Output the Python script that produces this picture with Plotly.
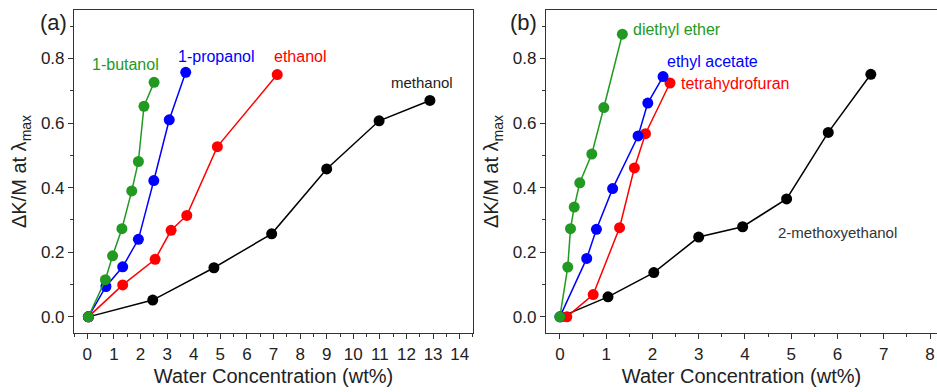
import plotly.graph_objects as go

# ---------------- data: panel (a) ----------------
meoh_x = [0.04, 2.46, 4.76, 6.93, 9.0, 10.97, 12.88]
meoh_y = [0.0, 0.052, 0.152, 0.257, 0.458, 0.607, 0.670]
etoh_x = [0.04, 1.33, 2.55, 3.15, 3.74, 4.89, 7.14]
etoh_y = [0.0, 0.099, 0.178, 0.268, 0.314, 0.527, 0.750]
prop_x = [0.04, 0.70, 1.33, 1.92, 2.50, 3.08, 3.70]
prop_y = [0.0, 0.094, 0.155, 0.240, 0.422, 0.610, 0.757]
but_x = [0.04, 0.68, 0.95, 1.30, 1.67, 1.92, 2.13, 2.51]
but_y = [0.0, 0.115, 0.189, 0.273, 0.390, 0.481, 0.652, 0.726]

# ---------------- data: panel (b) ----------------
dee_x = [0.0, 0.17, 0.23, 0.31, 0.43, 0.69, 0.95, 1.35]
dee_y = [0.0, 0.154, 0.273, 0.340, 0.415, 0.504, 0.648, 0.875]
ea_x = [0.0, 0.58, 0.79, 1.14, 1.69, 1.90, 2.23]
ea_y = [0.0, 0.181, 0.271, 0.397, 0.560, 0.662, 0.744]
thf_x = [0.15, 0.72, 1.29, 1.61, 1.85, 2.38]
thf_y = [0.0, 0.069, 0.276, 0.461, 0.567, 0.724]
meo_x = [0.02, 1.04, 2.03, 3.00, 3.95, 4.90, 5.80, 6.72]
meo_y = [0.0, 0.062, 0.137, 0.247, 0.279, 0.365, 0.571, 0.751]

x_ticks_a = list(range(0, 15))
x_ticks_b = list(range(0, 9))
y_ticks = [0.0, 0.2, 0.4, 0.6, 0.8]

GREEN = "#229a22"
BLUE = "#0000ff"
RED = "#ff0000"
BLACK = "#000000"
FONT = "Liberation Sans, Arial, sans-serif"

fig = go.Figure()

def add(x, y, color, xa, ya):
    fig.add_trace(go.Scatter(
        x=x, y=y, mode="lines+markers", xaxis=xa, yaxis=ya,
        line=dict(color=color, width=1.5),
        marker=dict(color=color, size=11, symbol="circle"),
        showlegend=False, hoverinfo="skip"))

add(meoh_x, meoh_y, BLACK, "x", "y")
add(etoh_x, etoh_y, RED, "x", "y")
add(prop_x, prop_y, BLUE, "x", "y")
add(but_x, but_y, GREEN, "x", "y")

add(meo_x, meo_y, BLACK, "x2", "y2")
add(thf_x, thf_y, RED, "x2", "y2")
add(ea_x, ea_y, BLUE, "x2", "y2")
add(dee_x, dee_y, GREEN, "x2", "y2")

axis_common = dict(
    showgrid=False, zeroline=False, showline=True, linecolor="#333333",
    linewidth=1.2, ticks="outside", ticklen=5, tickwidth=1.2,
    tickcolor="#333333", tickfont=dict(family=FONT, size=17, color="#222222"),
)

ytitle = dict(text="ΔK/M at λ<sub>max</sub>", font=dict(family=FONT, size=20, color="#222222"), standoff=8)
xtitle = dict(text="Water Concentration (wt%)", font=dict(family=FONT, size=20, color="#222222"), standoff=6)

fig.update_layout(
    width=937, height=392,
    margin=dict(l=0, r=0, t=0, b=0),
    paper_bgcolor="white", plot_bgcolor="white",
    xaxis=dict(domain=[0.079, 0.5048], range=[-0.5, 14.5], anchor="y",
               tickvals=x_ticks_a, mirror=True,
               minor=dict(dtick=0.5, tick0=0, ticks="outside", ticklen=3, tickcolor="#333333"),
               title=xtitle, **axis_common),
    yaxis=dict(domain=[0.1505, 0.9745], range=[-0.05, 0.95], anchor="x",
               tickvals=y_ticks, tickformat=".1f", mirror=True,
               minor=dict(dtick=0.1, tick0=0, ticks="outside", ticklen=3, tickcolor="#333333"),
               title=ytitle, **axis_common),
    xaxis2=dict(domain=[0.5827, 1.0], range=[-0.3, 8.15], anchor="y2",
                tickvals=x_ticks_b, mirror=True,
                minor=dict(dtick=0.5, tick0=0, ticks="outside", ticklen=3, tickcolor="#333333"),
                title=xtitle, **axis_common),
    yaxis2=dict(domain=[0.1505, 0.9745], range=[-0.05, 0.95], anchor="x2",
                tickvals=y_ticks, tickformat=".1f", mirror=False,
                minor=dict(dtick=0.1, tick0=0, ticks="outside", ticklen=3, tickcolor="#333333"),
                title=ytitle, **axis_common),
)

def label(text, x, y, color, xref, yref, xanchor="center", size=16):
    fig.add_annotation(text=text, x=x, y=y, xref=xref, yref=yref, showarrow=False,
                       xanchor=xanchor, yanchor="middle",
                       font=dict(family=FONT, size=size, color=color))

label("1-butanol", 1.42, 0.781, GREEN, "x", "y")
label("1-propanol", 4.86, 0.806, BLUE, "x", "y")
label("ethanol", 8.0, 0.806, RED, "x", "y")
label("methanol", 12.57, 0.725, "#222222", "x", "y", size=15)

label("diethyl ether", 1.53, 0.89, GREEN, "x2", "y2", xanchor="left")
label("ethyl acetate", 2.27, 0.79, BLUE, "x2", "y2", xanchor="left")
label("tetrahydrofuran", 2.58, 0.722, RED, "x2", "y2", xanchor="left")
label("2-methoxyethanol", 4.67, 0.262, "#333333", "x2", "y2", xanchor="left", size=15)

fig.add_annotation(text="(a)", x=53 / 937, y=1 - 22 / 392, xref="paper", yref="paper",
                   showarrow=False, xanchor="center", yanchor="middle",
                   font=dict(family=FONT, size=22, color="#222222"))
fig.add_annotation(text="(b)", x=523 / 937, y=1 - 22 / 392, xref="paper", yref="paper",
                   showarrow=False, xanchor="center", yanchor="middle",
                   font=dict(family=FONT, size=22, color="#222222"))

fig.write_html("out.html")
